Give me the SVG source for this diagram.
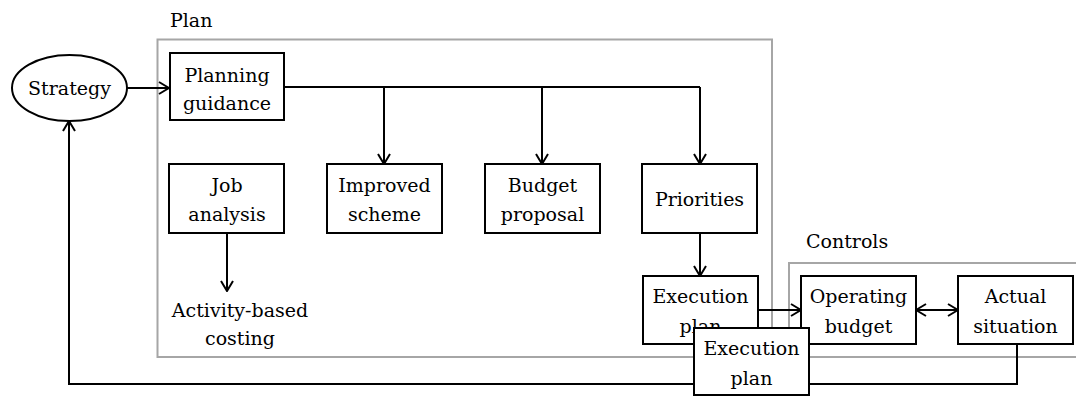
<svg xmlns="http://www.w3.org/2000/svg" width="1076" height="396" viewBox="0 0 1076 396">
<defs>
<style>
.box{fill:#fff;stroke:#000;stroke-width:2}
.grp{fill:none;stroke:#a6a6a6;stroke-width:2}
text{font-family:'DejaVu Serif',serif;font-size:19px;fill:#000}
.t{text-anchor:middle}
.c{fill:none;stroke:#000;stroke-width:2}
</style>
<marker id="a" viewBox="0 0 12 14" refX="11" refY="7" markerWidth="12" markerHeight="14" markerUnits="userSpaceOnUse" orient="auto-start-reverse">
<path d="M1,1 L11,7 L1,13" fill="none" stroke="#000" stroke-width="2"/>
</marker>
</defs>
<rect width="1076" height="396" fill="#fff"/>
<g id="plan-group">
<rect class="grp" x="157.5" y="39.5" width="614.5" height="317.5"/>
<text x="170" y="27">Plan</text>
</g>
<g id="controls-group">
<rect class="grp" x="789" y="263" width="300" height="94"/>
<text x="806" y="248">Controls</text>
</g>
<g id="connectors">
<path class="c" d="M127,88 L169,88" marker-end="url(#a)"/>
<path class="c" d="M284,87 L700,87"/>
<path class="c" d="M384,87 L384,164" marker-end="url(#a)"/>
<path class="c" d="M542,87 L542,164" marker-end="url(#a)"/>
<path class="c" d="M700,87 L700,164" marker-end="url(#a)"/>
<path class="c" d="M227,233 L227,291" marker-end="url(#a)"/>
<path class="c" d="M700,233 L700,276" marker-end="url(#a)"/>
<path class="c" d="M758,310 L801,310" marker-end="url(#a)"/>
<path class="c" d="M916,310 L958,310" marker-start="url(#a)" marker-end="url(#a)"/>
<path class="c" d="M1017,344 L1017,384 L69,384 L69,121" marker-end="url(#a)"/>
</g>
<g id="strategy">
<ellipse cx="69.5" cy="88" rx="57.5" ry="33" fill="#fff" stroke="#000" stroke-width="2"/>
<text class="t" x="69.5" y="95">Strategy</text>
</g>
<g id="planning-guidance">
<rect class="box" x="170" y="53" width="114" height="67"/>
<text class="t" x="227" y="82">Planning</text>
<text class="t" x="227" y="110">guidance</text>
</g>
<g id="job-analysis">
<rect class="box" x="169" y="164" width="115" height="69"/>
<text class="t" x="227" y="192">Job</text>
<text class="t" x="227" y="221">analysis</text>
</g>
<g id="improved-scheme">
<rect class="box" x="327" y="164" width="115" height="69"/>
<text class="t" x="384.5" y="192">Improved</text>
<text class="t" x="384.5" y="221">scheme</text>
</g>
<g id="budget-proposal">
<rect class="box" x="485" y="164" width="115" height="69"/>
<text class="t" x="542.5" y="192">Budget</text>
<text class="t" x="542.5" y="221">proposal</text>
</g>
<g id="priorities">
<rect class="box" x="642" y="164" width="115" height="69"/>
<text class="t" x="699.5" y="206">Priorities</text>
</g>
<g id="activity-based-costing">
<text class="t" x="240" y="317">Activity-based</text>
<text class="t" x="240" y="345">costing</text>
</g>
<g id="execution-plan-1">
<rect class="box" x="643" y="276" width="115" height="68"/>
<text class="t" x="700.5" y="303">Execution</text>
<text class="t" x="700.5" y="333">plan</text>
</g>
<g id="operating-budget">
<rect class="box" x="801" y="276" width="115" height="68"/>
<text class="t" x="858.5" y="303">Operating</text>
<text class="t" x="858.5" y="333">budget</text>
</g>
<g id="actual-situation">
<rect class="box" x="958" y="276" width="115" height="68"/>
<text class="t" x="1015.5" y="303">Actual</text>
<text class="t" x="1015.5" y="333">situation</text>
</g>
<g id="execution-plan-2">
<rect class="box" x="694" y="328" width="115" height="67"/>
<text class="t" x="751.5" y="355">Execution</text>
<text class="t" x="751.5" y="385">plan</text>
</g>
</svg>
